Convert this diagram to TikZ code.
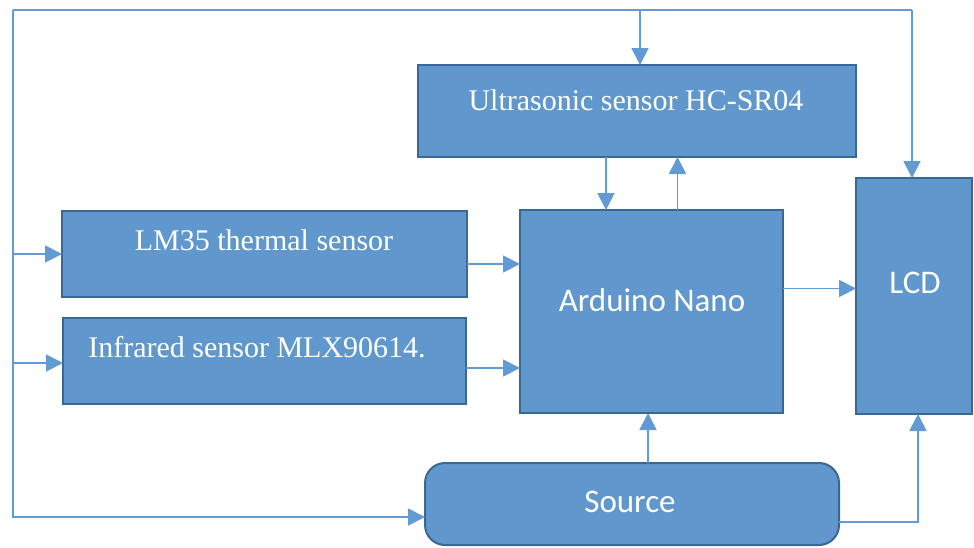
\documentclass[tikz,border=0pt]{standalone}
\usepackage{fontspec}
\setmainfont{Liberation Serif}
\newfontfamily\labelsans{Carlito}
\usetikzlibrary{arrows.meta}
\definecolor{boxblue}{RGB}{96,151,204}
\definecolor{edgeblue}{RGB}{58,104,150}
\definecolor{wireblue}{RGB}{98,155,212}

\begin{document}
\begin{tikzpicture}[x=1pt, y=-1pt,
    block/.style={draw=edgeblue, line width=2pt, fill=boxblue, anchor=north west,
                  inner sep=0pt, outer sep=0pt},
    wire/.style={wireblue, line width=1.8pt},
    feed/.style={wire, -{Triangle[length=17pt,width=17pt]}},
    serif/.style={white, anchor=base, font=\fontsize{30}{34}\selectfont},
    sans/.style={white, anchor=base, font=\labelsans\fontsize{33}{36}\selectfont}]
        \useasboundingbox (0,0) rectangle (974,547);

        % Blocks
        \node[block, minimum width=438pt, minimum height=92pt]  (ultra) at (418,65)  {};
        \node[block, minimum width=405pt, minimum height=86pt]  (lm)    at (62,211)  {};
        \node[block, minimum width=403pt, minimum height=86pt]  (ir)    at (63,318)  {};
        \node[block, minimum width=263pt, minimum height=203pt] (ard)   at (520,210) {};
        \node[block, minimum width=116pt, minimum height=236pt] (lcd)   at (856,178) {};
        \node[block, rounded corners=20pt, minimum width=414pt, minimum height=82pt] (src) at (425,463) {};

        % Labels
        \node[serif] (ultralbl) at (636,110) {Ultrasonic sensor HC-SR04};
        \node[serif] (lmlbl)    at (264,250) {LM35 thermal sensor};
        \node[serif] (irlbl)    at (257,357) {Infrared sensor MLX90614.};
        \node[sans]  (ardlbl)   at (652,311) {Arduino Nano};
        \node[sans]  (lcdlbl)   at (915,293) {LCD};
        \node[sans]  (srclbl)   at (630,512) {Source};

        % Outer feed lines
        \coordinate (cTL) at (13,10);
        \coordinate (cTR) at (912,10);
        \coordinate (cBL) at (13,517);
        \coordinate (cBR) at (918,522);
        \draw[wire] (cTL) -- (cTR);
        \draw[feed] (cTR) -- (cTR |- lcd.north);
        \draw[feed] (cTL) -- (cBL) -- (cBL -| src.west);
        \draw[feed] ([xshift=3pt]ultra.north |- cTL) -- ([xshift=3pt]ultra.north);
        \draw[feed] (cTL |- lm.west) -- (lm.west);
        \draw[feed] ([yshift=-2pt]cTL |- ir.west) -- ([yshift=-2pt]ir.west);

        % Sensor links
        \draw[feed] ([yshift=-10pt]lm.east) -- ([yshift=-10pt]lm.east -| ard.west);
        \draw[feed] ([yshift=-7pt]ir.east) -- ([yshift=-7pt]ir.east -| ard.west);
        \draw[feed] ([xshift=-31pt]ultra.south) -- ([xshift=-31pt]ultra.south |- ard.north);
        \draw[feed] ([xshift=26pt]ard.north) -- ([xshift=26pt]ard.north |- ultra.south);
        \draw[feed] ([yshift=23pt]ard.east) -- ([yshift=23pt]ard.east -| lcd.west);

        % Supply
        \draw[feed] ([xshift=16pt]src.north) -- ([xshift=16pt]src.north |- ard.south);
        \draw[feed] (src.east |- cBR) -- (cBR) -- (cBR |- lcd.south);
      \end{tikzpicture}
\end{document}
